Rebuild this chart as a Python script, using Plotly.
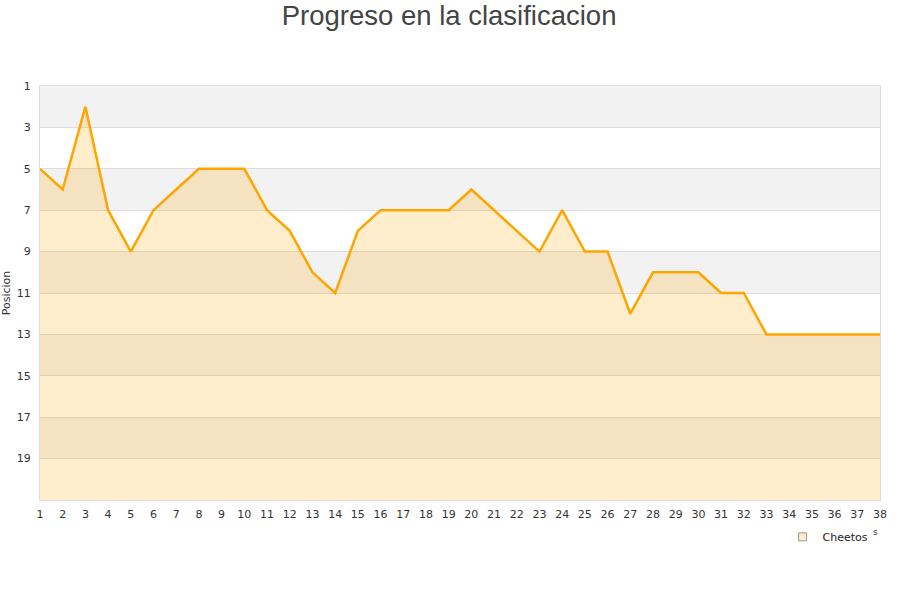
import plotly.graph_objects as go

jornadas = list(range(1, 39))
posicion = [5, 6, 2, 7, 9, 7, 6, 5, 5, 5, 7, 8, 10, 11, 8, 7, 7, 7, 7, 6,
            7, 8, 9, 7, 9, 9, 12, 10, 10, 10, 11, 11, 13, 13, 13, 13, 13, 13]
y_ticks = [1, 3, 5, 7, 9, 11, 13, 15, 17, 19]
y_bottom = 21
equipo = "Cheetos"

fig = go.Figure()

# baseline for fill
fig.add_trace(go.Scatter(x=jornadas, y=[y_bottom] * len(jornadas), mode="lines",
                         line=dict(width=0), showlegend=False, hoverinfo="skip"))
fig.add_trace(go.Scatter(x=jornadas, y=posicion, mode="lines", fill="tonexty",
                         fillcolor="rgba(255,165,0,0.2)",
                         line=dict(color="#ffa500", width=2.5),
                         showlegend=False, name=equipo))
# legend marker
fig.add_trace(go.Scatter(x=[None], y=[None], mode="markers", name=equipo,
                         marker=dict(symbol="square", size=8, color="#fdecc8",
                                     line=dict(color="#999999", width=1))))

shapes = []
for i, t in enumerate(y_ticks):
    if i % 2 == 0:
        shapes.append(dict(type="rect", xref="paper", yref="y", x0=0, x1=1,
                           y0=t, y1=t + 2, fillcolor="#f2f2f2", line=dict(width=0),
                           layer="below"))

fig.update_layout(
    width=900, height=600,
    margin=dict(l=40, r=20, t=86, b=100, autoexpand=False),
    paper_bgcolor="white", plot_bgcolor="white",
    title=dict(text="Progreso en la clasificacion", x=0.499, xanchor="center",
               y=0.975, yanchor="middle",
               font=dict(family="Liberation Sans, Arial", size=27.5, color="#444444")),
    font=dict(family="DejaVu Sans, Verdana", size=11, color="#333333"),
    shapes=shapes,
    showlegend=True,
    legend=dict(x=0.884, xanchor="left", y=-0.089, yanchor="middle",
                bgcolor="rgba(0,0,0,0)", font=dict(size=11, color="#222222"),
                itemwidth=30),
    xaxis=dict(range=[1, 38], tickmode="array", tickvals=jornadas,
               showgrid=False, zeroline=False, showline=True, linecolor="#dddddd",
               mirror=True, ticks="", automargin=False, ticklabelstandoff=4,
               tickfont=dict(size=11, color="#333333")),
    yaxis=dict(range=[y_bottom, 1], tickmode="array", tickvals=y_ticks,
               showgrid=True, gridcolor="#dddddd", zeroline=False, showline=True,
               linecolor="#dddddd", mirror=True, ticks="", automargin=False,
               ticklabelstandoff=6,
               title=dict(text="Posicion", standoff=3, font=dict(size=11, color="#333333")),
               tickfont=dict(size=11, color="#333333")),
)
fig.add_annotation(text="s", xref="paper", yref="paper", x=1.0,
                   y=-(539 - 500) / 414, showarrow=False,
                   font=dict(size=9, color="#333333"))

fig.write_html("out.html", config={"displayModeBar": False},
               post_script="document.body.style.margin='0';")
